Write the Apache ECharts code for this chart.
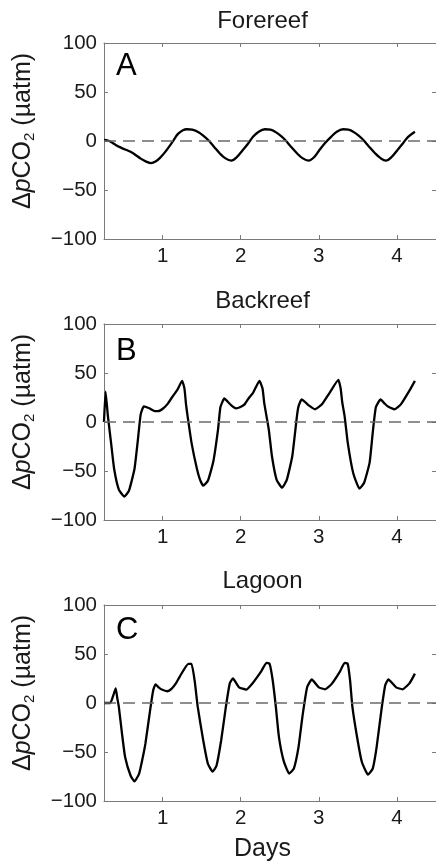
<!DOCTYPE html>
<html>
<head>
<meta charset="utf-8">
<script src="https://cdn.jsdelivr.net/npm/echarts@6/dist/echarts.min.js"></script>
<style>
html,body{margin:0;padding:0;background:#fff;}
#chart{width:436px;height:868px;}
</style>
</head>
<body>
<div id="chart"></div>
<script>
// ---- data ----
var panelTitles = ['Forereef', 'Backreef', 'Lagoon'];
var panelLetters = ['A', 'B', 'C'];
var xTickValues = [1, 2, 3, 4];
var yTicks = [-100, -50, 0, 50, 100];

var daysA = [0.25,0.30,0.34,0.40,0.46,0.53,0.59,0.66,0.72,0.79,0.85,0.91,0.97,1.04,1.10,1.15,1.20,1.26,1.31,1.38,1.46,1.52,1.59,1.66,1.73,1.80,1.88,1.95,2.03,2.10,2.16,2.23,2.31,2.38,2.44,2.51,2.57,2.64,2.72,2.79,2.87,2.94,3.01,3.08,3.16,3.23,3.31,3.38,3.44,3.51,3.57,3.64,3.72,3.79,3.86,3.93,4.01,4.08,4.14,4.23];
var pco2A = [1,0.5,-1,-4,-6.5,-9,-11,-14.5,-18,-21,-22.5,-21,-17,-10.5,-4,2,7.5,11,12,11.5,9,5.5,0.5,-6,-12.5,-17.5,-20,-16.5,-9,-2,4.5,9.5,12,11.5,9.5,5.5,1,-5.5,-12.5,-17.5,-20,-16.5,-9,-2,4.5,9.5,12,11.5,9.5,5.5,1,-5.5,-12.5,-17.5,-20,-16.5,-9,-2,4,9.5];

var daysB = [0.25,0.27,0.30,0.34,0.38,0.44,0.51,0.57,0.64,0.68,0.72,0.76,0.83,0.90,0.94,1.01,1.07,1.12,1.19,1.25,1.28,1.30,1.32,1.37,1.44,1.48,1.52,1.58,1.65,1.71,1.74,1.79,1.83,1.88,1.94,1.99,2.05,2.10,2.16,2.24,2.28,2.30,2.33,2.36,2.40,2.46,2.53,2.59,2.66,2.72,2.74,2.78,2.83,2.87,2.95,3.04,3.14,3.25,3.28,3.30,3.33,3.37,3.44,3.52,3.58,3.65,3.69,3.73,3.79,3.84,3.88,3.97,4.05,4.16,4.23];
var pco2B = [0,31,6,-21,-48,-69,-76,-70,-48,-21,8,16,14,11,11,14,19,25,33,42,34,18,6,-21,-48,-59,-65,-60,-40,-7.5,15,24,21,17,14,15,18,24,30,42,34,20,6,-8,-35,-59,-67,-59,-35,6,16,23,20,17,13,18,30,43,34,20,6,-21,-52,-68,-62,-41.5,-11,15,23,19,16,13,18,32,42];

var daysC = [0.25,0.33,0.37,0.40,0.42,0.44,0.48,0.52,0.59,0.64,0.70,0.74,0.78,0.84,0.88,0.91,0.95,0.99,1.06,1.12,1.17,1.22,1.33,1.37,1.41,1.45,1.52,1.58,1.64,1.69,1.75,1.81,1.86,1.90,1.98,2.07,2.15,2.26,2.33,2.37,2.41,2.45,2.49,2.55,2.62,2.68,2.74,2.79,2.85,2.91,3.00,3.08,3.16,3.27,3.33,3.37,3.40,3.43,3.49,3.55,3.63,3.69,3.74,3.80,3.85,3.89,3.99,4.07,4.16,4.23];
var pco2C = [0,0,8,15,5,-4,-31,-55,-74,-80,-72,-58,-41.5,-7.5,13,19,16,13.7,12,15,20,27,40,40,23,-4,-38,-62,-70,-64,-38,-4,20,25,16,13.7,20,32,41,40,23,-4,-35,-59,-72,-67,-45,-14,16,24,16,14,19,32,41,40,23,-4,-35,-60,-73,-67,-45,-8,18,24,16,14,20,30];

var seriesDays = [daysA, daysB, daysC];
var seriesVals = [pco2A, pco2B, pco2C];
var smoothness = [0.35, 0.15, 0.15];

// ---- layout ----
var FONT = "'Liberation Sans', Arial, Helvetica, sans-serif";
var gridTops = [43, 324, 605];
var gridH = 196;
var titleTops = [9, 289, 569.5];
var letterTops = [51, 336, 615];
var axisColor = '#7a7a7a';
var textColor = '#1a1a1a';

function pairs(xs, ys) {
  var out = [];
  for (var i = 0; i < xs.length; i++) out.push([xs[i], ys[i]]);
  return out;
}

var grids = [], xAxes = [], yAxes = [], series = [], titles = [], graphics = [];
for (var p = 0; p < 3; p++) {
  grids.push({left: 104, right: -3, top: gridTops[p], height: gridH});
  var isLast = (p === 2);
  xAxes.push({
    type: 'value', gridIndex: p, position: 'bottom', min: 0.25, max: 4.5,
    axisLine: {show: true, onZero: false, lineStyle: {color: axisColor, width: 1}},
    axisTick: {show: true, inside: true, length: 4, customValues: xTickValues, lineStyle: {color: axisColor}},
    axisLabel: {show: true, customValues: xTickValues, margin: 7, fontSize: 20.5, fontFamily: FONT, color: textColor},
    splitLine: {show: false},
    name: isLast ? 'Days' : '',
    nameLocation: 'middle', nameGap: 36,
    nameTextStyle: {fontSize: 25, fontFamily: FONT, color: textColor, padding: [0, 15, 0, 0]}
  });
  xAxes.push({
    type: 'value', gridIndex: p, position: 'top', min: 0.25, max: 4.5,
    axisLine: {show: true, onZero: false, lineStyle: {color: axisColor, width: 1}},
    axisTick: {show: true, inside: true, length: 4, customValues: xTickValues, lineStyle: {color: axisColor}},
    axisLabel: {show: false, customValues: xTickValues},
    splitLine: {show: false}
  });
  yAxes.push({
    type: 'value', gridIndex: p, position: 'left', min: yTicks[0], max: yTicks[yTicks.length - 1], interval: 50,
    axisLine: {show: true, onZero: false, lineStyle: {color: axisColor, width: 1}},
    axisTick: {show: true, inside: true, length: 4, lineStyle: {color: axisColor}},
    axisLabel: {margin: 7, fontSize: 20.5, fontFamily: FONT, color: textColor,
      formatter: function (v) { return v < 0 ? '\u2212' + Math.abs(v) : String(v); }},
    splitLine: {show: false},
    name: '{n|\u0394}{i|p}{n|CO}{s|2}{n| (\u00b5atm)}',
    nameLocation: 'middle', nameRotate: 90, nameGap: 67,
    nameTextStyle: {
      fontSize: 25, fontFamily: FONT, color: textColor, padding: [0, 0, 0, 20],
      rich: {
        n: {fontSize: 25, fontFamily: FONT, color: textColor, lineHeight: 28},
        i: {fontSize: 25, fontFamily: FONT, color: textColor, fontStyle: 'italic', lineHeight: 28},
        s: {fontSize: 15, fontFamily: FONT, color: textColor, verticalAlign: 'bottom', lineHeight: 15}
      }
    }
  });
  yAxes.push({
    type: 'value', gridIndex: p, position: 'right', min: -100, max: 100, interval: 50,
    axisLine: {show: true, onZero: false, lineStyle: {color: axisColor, width: 1}},
    axisTick: {show: true, inside: true, length: 4, lineStyle: {color: axisColor}},
    axisLabel: {show: false},
    splitLine: {show: false}
  });
  series.push({
    type: 'line', xAxisIndex: 2 * p, yAxisIndex: 2 * p,
    data: pairs(seriesDays[p], seriesVals[p]),
    showSymbol: false, smooth: smoothness[p],
    lineStyle: {color: '#000', width: 2.3},
    z: 3,
    markLine: {
      silent: true, symbol: 'none', label: {show: false},
      lineStyle: {color: '#6a6a6a', width: 1.5, type: [12, 7]},
      data: [{yAxis: 0}]
    }
  });
  titles.push({
    text: panelTitles[p], left: 262.5, top: titleTops[p], textAlign: 'center', padding: 0,
    textStyle: {fontSize: 24, fontWeight: 'normal', fontFamily: FONT, color: textColor}
  });
  graphics.push({
    type: 'text', left: 116, top: letterTops[p],
    style: {text: panelLetters[p], fontSize: 31, fontFamily: FONT, fill: '#000'}
  });
}

var chart = echarts.init(document.getElementById('chart'), null, {renderer: 'canvas'});
chart.setOption({
  animation: false,
  backgroundColor: '#fff',
  title: titles,
  grid: grids,
  xAxis: xAxes,
  yAxis: yAxes,
  series: series,
  graphic: graphics
});
</script>
</body>
</html>
